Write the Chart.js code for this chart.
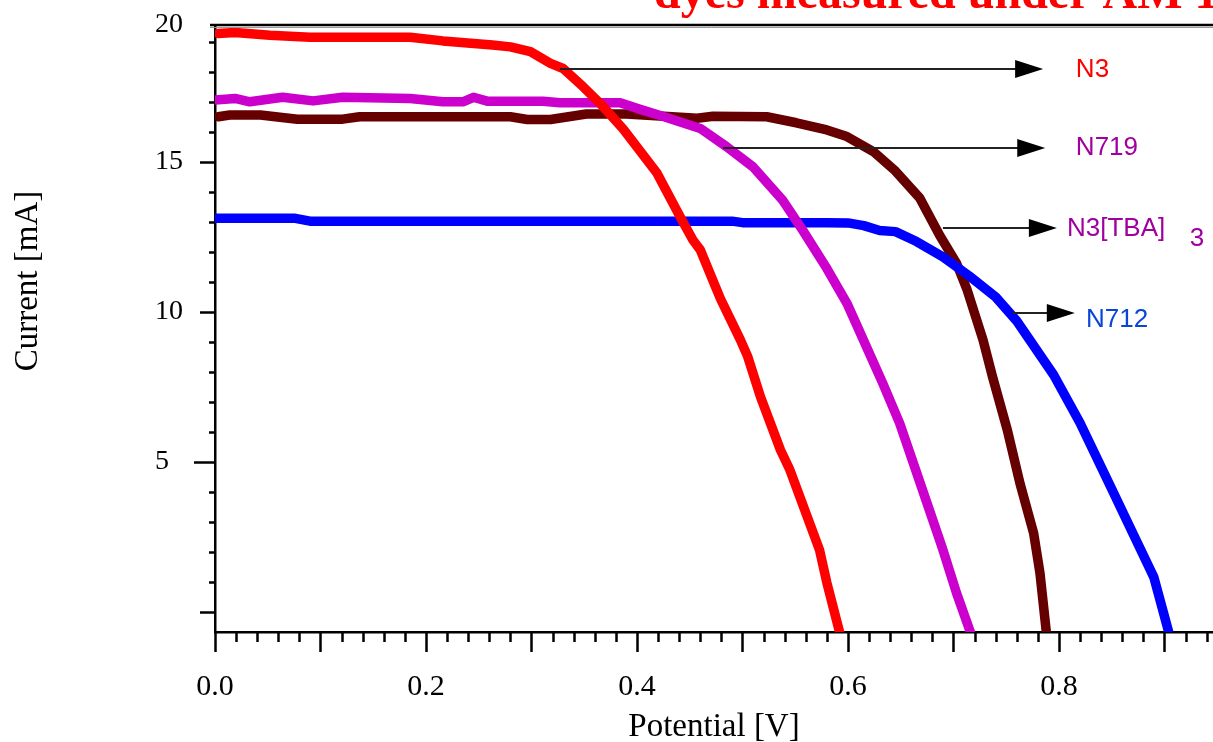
<!DOCTYPE html>
<html>
<head>
<meta charset="utf-8">
<script src="https://cdn.jsdelivr.net/npm/chart.js@4/dist/chart.umd.min.js"></script>
<style>
  html, body { margin: 0; padding: 0; background: #fff; }
  #wrap { width: 1213px; height: 742px; }
</style>
</head>
<body>
<div id="wrap"><canvas id="ivChart" width="1213" height="742"></canvas></div>
<script>
// I-V curves, potential [V] vs current [mA]
let voltN3 = [0.003, 0.019, 0.052, 0.090, 0.185, 0.216, 0.263, 0.280, 0.299, 0.318, 0.330, 0.349, 0.365, 0.387, 0.419, 0.441, 0.453, 0.460, 0.479, 0.498, 0.505, 0.517, 0.536, 0.545, 0.573, 0.580, 0.592];
let currN3 = [19.29, 19.32, 19.23, 19.16, 19.16, 19.04, 18.90, 18.84, 18.68, 18.29, 18.12, 17.51, 16.96, 16.10, 14.63, 13.17, 12.40, 12.07, 10.45, 9.07, 8.51, 7.18, 5.40, 4.73, 2.07, 0.97, -0.67];

let voltN719 = [0.000, 0.019, 0.033, 0.064, 0.093, 0.121, 0.185, 0.216, 0.235, 0.245, 0.258, 0.311, 0.327, 0.384, 0.400, 0.422, 0.460, 0.485, 0.510, 0.538, 0.557, 0.580, 0.599, 0.609, 0.633, 0.649, 0.675, 0.690, 0.703, 0.716];
let currN719 = [17.07, 17.12, 17.01, 17.16, 17.04, 17.16, 17.12, 17.01, 17.01, 17.16, 17.03, 17.03, 16.98, 16.98, 16.79, 16.55, 16.12, 15.51, 14.84, 13.73, 12.73, 11.45, 10.29, 9.51, 7.62, 6.29, 3.62, 2.07, 0.62, -0.67];

let voltTBA = [0.003, 0.014, 0.043, 0.078, 0.121, 0.137, 0.280, 0.296, 0.318, 0.352, 0.390, 0.457, 0.472, 0.523, 0.551, 0.580, 0.599, 0.624, 0.645, 0.668, 0.687, 0.703, 0.713, 0.728, 0.737, 0.751, 0.763, 0.776, 0.782, 0.788];
let currTBA = [16.51, 16.57, 16.57, 16.43, 16.43, 16.51, 16.51, 16.42, 16.42, 16.60, 16.60, 16.46, 16.53, 16.51, 16.31, 16.07, 15.85, 15.35, 14.70, 13.80, 12.55, 11.62, 10.73, 9.07, 7.84, 6.07, 4.29, 2.62, 1.29, -0.67];

let voltN712 = [0.000, 0.075, 0.090, 0.490, 0.500, 0.580, 0.600, 0.615, 0.630, 0.645, 0.665, 0.690, 0.715, 0.740, 0.760, 0.795, 0.820, 0.850, 0.870, 0.890, 0.904];
let currN712 = [13.13, 13.13, 13.03, 13.03, 12.98, 12.98, 12.97, 12.88, 12.72, 12.68, 12.35, 11.84, 11.20, 10.50, 9.70, 7.90, 6.30, 4.10, 2.62, 1.15, -0.67];

// axis ticks
let xTickValues = [];
for (let i = 0; i <= 47; i++) xTickValues.push(Math.round(i * 2) / 100);
let xTickLabels = ['0.0', '0.2', '0.4', '0.6', '0.8'];
let yTickValues = [];
for (let i = 0; i <= 19; i++) yTickValues.push(i);
let yTickLabels = ['5', '10', '15', '20'];

const X_MIN = 0, X_MAX = 0.946;
const Y_MIN = -0.67, Y_MAX = 19.57;

// arrows + labels next to the curves: [name, colour, arrowStartV, arrowEndV, I, labelV, labelI]
const dyeNotes = [
  ['N3', '#ff0000', 0.327, 0.785, 18.10, 0.816, 18.07],
  ['N719', '#a000a0', 0.4815, 0.787, 15.47, 0.816, 15.47],
  ['N3[TBA]', '#a000a0', 0.690, 0.798, 12.80, 0.8076, 12.77],
  ['N712', '#0a44d8', 0.756, 0.815, 9.97, 0.8256, 9.73]
];

function toPoints(xs, ys) {
  return xs.map((x, i) => ({x: x, y: ys[i]}));
}

function lineSet(label, xs, ys, color) {
  return {
    label: label,
    data: toPoints(xs, ys),
    borderColor: color,
    backgroundColor: color,
    borderWidth: 9.5,
    pointRadius: 0,
    tension: 0,
    borderCapStyle: 'round',
    borderJoinStyle: 'round',
    fill: false
  };
}

const extrasPlugin = {
  id: 'extras',
  afterDraw(chart) {
    const ctx = chart.ctx;
    const xs = chart.scales.x, ys = chart.scales.y;
    const area = chart.chartArea;
    ctx.save();

    // top frame line
    ctx.strokeStyle = '#000';
    ctx.lineWidth = 2.5;
    ctx.beginPath();
    ctx.moveTo(210, area.top);
    ctx.lineTo(chart.width, area.top);
    ctx.stroke();
    ctx.strokeStyle = '#999';
    ctx.lineWidth = 1;
    ctx.beginPath();
    ctx.moveTo(210, area.top + 2.5);
    ctx.lineTo(chart.width, area.top + 2.5);
    ctx.stroke();

    // tick marks
    ctx.strokeStyle = '#000';
    ctx.lineWidth = 2.5;
    ctx.beginPath();
    yTickValues.forEach(v => {
      const py = Math.round(ys.getPixelForValue(v)) + 0.5;
      const len = v % 5 === 0 ? (v === 5 ? 21 : 15) : 6;
      ctx.moveTo(area.left, py);
      ctx.lineTo(area.left - len, py);
    });
    xTickValues.forEach((v, i) => {
      const px = Math.round(xs.getPixelForValue(v)) + 0.5;
      const len = i % 5 === 0 ? 20 : 10;
      ctx.moveTo(px, area.bottom);
      ctx.lineTo(px, area.bottom + len);
    });
    ctx.stroke();

    // y axis title
    ctx.fillStyle = '#000';
    ctx.font = '33px "Liberation Serif"';
    ctx.textAlign = 'center';
    ctx.textBaseline = 'middle';
    ctx.translate(28, 281);
    ctx.rotate(-Math.PI / 2);
    ctx.fillText('Current [mA]', 0, 0);
    ctx.setTransform(1, 0, 0, 1, 0, 0);

    // arrows and dye names
    dyeNotes.forEach(n => {
      const x0 = xs.getPixelForValue(n[2]);
      const x1 = xs.getPixelForValue(n[3]);
      const py = ys.getPixelForValue(n[4]);
      ctx.strokeStyle = '#222';
      ctx.lineWidth = 2;
      ctx.beginPath();
      ctx.moveTo(x0, py);
      ctx.lineTo(x1 - 26, py);
      ctx.stroke();
      ctx.fillStyle = '#000';
      ctx.beginPath();
      ctx.moveTo(x1, py);
      ctx.lineTo(x1 - 28, py - 9);
      ctx.lineTo(x1 - 28, py + 9);
      ctx.closePath();
      ctx.fill();

      ctx.fillStyle = n[1];
      ctx.font = '26px "Liberation Sans"';
      ctx.textAlign = 'left';
      ctx.textBaseline = 'middle';
      ctx.fillText(n[0], xs.getPixelForValue(n[5]), ys.getPixelForValue(n[6]));
    });
    // subscript of N3[TBA]3
    ctx.fillStyle = '#a000a0';
    ctx.font = '26px "Liberation Sans"';
    ctx.fillText('3', xs.getPixelForValue(0.924), ys.getPixelForValue(12.43));

    // title, cut at the top of the picture
    ctx.fillStyle = '#ff0000';
    ctx.font = 'bold 48px "Liberation Serif"';
    ctx.textAlign = 'left';
    ctx.textBaseline = 'alphabetic';
    ctx.fillText('dyes measured under AM 1.5', 654, 8);
    ctx.restore();
  }
};

let chartElement = document.getElementById('ivChart').getContext('2d');

let ivChart = new Chart(chartElement, {
  type: 'line',
  data: {
    datasets: [
      lineSet('N3', voltN3, currN3, '#ff0000'),
      lineSet('N719', voltN719, currN719, '#cc00cc'),
      lineSet('N712', voltN712, currN712, '#0000ff'),
      lineSet('N3[TBA]3', voltTBA, currTBA, '#660000')
    ]
  },
  options: {
    responsive: false,
    animation: false,
    layout: { padding: { left: 155, top: 25, right: 0, bottom: 0 } },
    plugins: {
      legend: { display: false },
      tooltip: { enabled: false }
    },
    scales: {
      x: {
        type: 'linear',
        min: X_MIN,
        max: X_MAX,
        grid: { display: false, drawTicks: false },
        border: { display: true, color: '#000', width: 2.5 },
        afterBuildTicks: s => { s.ticks = xTickValues.map(v => ({value: v})); },
        afterFit: s => { s.height = 110; s.paddingLeft = 0; s.paddingRight = 0; },
        ticks: {
          autoSkip: false,
          maxRotation: 0,
          padding: 37,
          color: '#000',
          font: { family: 'Liberation Serif', size: 30 },
          callback: (v, i) => (i % 10 === 0 ? xTickLabels[i / 10] : '')
        },
        title: {
          display: true,
          text: 'Potential [V]',
          color: '#000',
          font: { family: 'Liberation Serif', size: 33, lineHeight: 0.9 },
          padding: { top: 10, bottom: 0 }
        }
      },
      y: {
        type: 'linear',
        min: Y_MIN,
        max: Y_MAX,
        grid: { display: false, drawTicks: false },
        border: { display: true, color: '#000', width: 2.5 },
        afterBuildTicks: s => {
          s.ticks = yTickValues.map(v => ({value: v}));
          s.ticks.push({value: Y_MAX});
        },
        afterFit: s => { s.width = 60; s.paddingTop = 0; s.paddingBottom = 0; },
        ticks: {
          autoSkip: false,
          padding: 32,
          crossAlign: 'far',
          color: '#000',
          font: { family: 'Liberation Serif', size: 28 },
          callback: v => {
            if (v === Y_MAX) return yTickLabels[3];
            if (v > 0 && v % 5 === 0) return yTickLabels[v / 5 - 1];
            return '';
          }
        }
      }
    }
  },
  plugins: [extrasPlugin]
});
</script>
</body>
</html>
